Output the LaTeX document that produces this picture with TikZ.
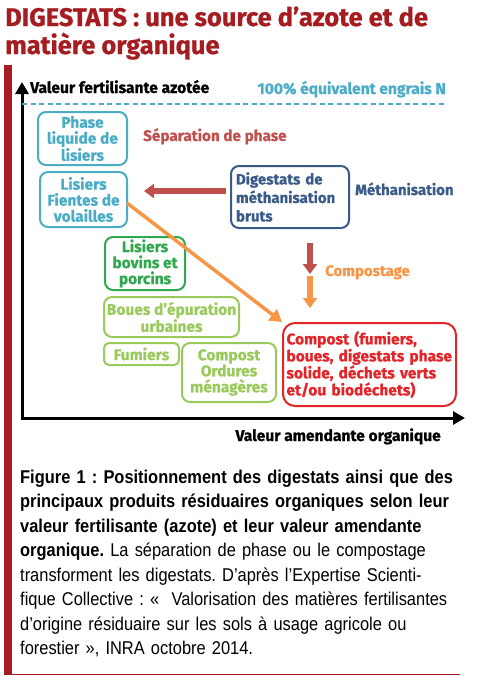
\documentclass[tikz,border=0pt]{standalone}
\usepackage{fontspec}
\setmainfont{Liberation Sans}
\newfontfamily\din[BoldFeatures={FakeBold=0.8}]{Fira Sans}
\newfontfamily\capfont[FakeStretch=0.888]{Liberation Sans}
\usetikzlibrary{arrows.meta}
\definecolor{darkred}{HTML}{A51C21}
\definecolor{lblue}{HTML}{4BACC6}
\definecolor{dblue}{HTML}{3A5B88}
\definecolor{brred}{HTML}{C0504D}
\definecolor{orng}{HTML}{F79646}
\definecolor{dgreen}{HTML}{2FA84F}
\definecolor{lgreen}{HTML}{9ACA5C}
\definecolor{cred}{HTML}{E42428}
\tikzset{
  box/.style={draw, line width=2pt, rounded corners=8pt, inner sep=2pt,
    font=\din\bfseries\fontsize{15.5}{16}\selectfont, align=center},
  lbl/.style={font=\din\bfseries\fontsize{15.3}{16}\selectfont, inner sep=0pt, anchor=base west},
  axlbl/.style={font=\din\bfseries\fontsize{15.6}{16}\selectfont, inner sep=0pt},
  axisarrow/.style={line width=3pt, -{Triangle[length=12pt,width=13pt]}},
  fatarrow/.style={line width=6pt, -{Triangle[length=10pt,width=14pt]}},
}
\begin{document}
\frenchspacing
\begin{tikzpicture}[x=1pt,y=-1pt]
\useasboundingbox (0,0) rectangle (477,680);
% title
\node[anchor=base west, inner sep=0pt, text=darkred, font=\din\bfseries\fontsize{25.5}{27}\selectfont] (title1) at (5,26)
  {DIGESTATS : une source d’azote et de};
\node[anchor=base west, inner sep=0pt, text=darkred, font=\din\bfseries\fontsize{25.5}{27}\selectfont] (title2) at (5,54)
  {matière organique};
% frame
\fill[darkred] (4,65) rectangle (12,675);
\draw[darkred, line width=1pt] (12,674) -- (460,674);
% axes
\coordinate (origin) at (22,418);
\coordinate (ytop) at (22,82);
\coordinate (xend) at (465,418);
\draw[axisarrow] (22,419.5) -- (ytop);
\draw[axisarrow] (20.5,418) -- (xend);
\node[axlbl, anchor=base west] (ylab) at (30,93) {Valeur fertilisante azotée};
\node[axlbl, anchor=base east] (xlab) at (441,441) {Valeur amendante organique};
\node[axlbl, text=lblue, anchor=base east] (ref) at (446,94) {100\% équivalent engrais N};
\coordinate (dl) at (22,104);
\coordinate (dr) at (446,104);
\draw[lblue, line width=2.5pt, dash pattern=on 5pt off 3.5pt] (dl) -- (dr);
% boxes
\node[box, lblue, text=lblue, minimum width=89pt, minimum height=53pt] (b1) at (82.5,138.5) {Phase\\liquide de\\lisiers};
\node[box, lblue, text=lblue, minimum width=87pt, minimum height=55pt] (b2) at (83.5,199.5) {Lisiers\\Fientes de\\volailles};
\node[box, dblue, text=dblue, minimum width=118pt, minimum height=62pt, align=left, text width=108pt, font=\din\bfseries\fontsize{15}{18.5}\selectfont] (b3) at (290,197) {Digestats de\\méthanisation\\bruts};
\node[box, dgreen, text=dgreen, minimum width=80pt, minimum height=53pt] (b4) at (145,263.5) {Lisiers\\bovins et\\porcins};
\node[box, lgreen, text=lgreen, minimum width=135pt, minimum height=40pt] (b5) at (171.5,317) {Boues d’épuration\\urbaines};
\node[box, lgreen, text=lgreen, minimum width=75pt, minimum height=22pt, rounded corners=5pt] (b6) at (141.5,354) {Fumiers};
\node[box, lgreen, text=lgreen, minimum width=94pt, minimum height=59pt] (b7) at (229,372.5) {Compost\\Ordures\\ménagères};
\node[box, cred, text=cred, minimum width=173pt, minimum height=83pt, align=left, text width=166pt, font=\din\bfseries\fontsize{15.5}{17}\selectfont, rounded corners=12pt] (b8) at (369.5,364.5) {Compost (fumiers,\\boues, digestats phase\\solide, déchets verts\\et/ou biodéchets)};
% process labels
\node[lbl, text=brred] (sep) at (143,141) {Séparation de phase};
\node[lbl, text=dblue, font=\din\bfseries\fontsize{15}{16}\selectfont] (meth) at (355,195) {Méthanisation};
\node[lbl, text=orng, font=\din\bfseries\fontsize{15}{16}\selectfont] (comp) at (325,276) {Compostage};
% arrows
\coordinate (hl) at (144,191);
\draw[fatarrow, brred] (b3.west |- hl) ++(-4,0) -- (hl);
\coordinate (v1) at (310,243);
\coordinate (v2) at (310,274);
\coordinate (v3) at (310,276);
\coordinate (v4) at (310,308);
\draw[fatarrow, brred] (v1) -- (v2);
\draw[fatarrow, orng] (v3) -- (v4);
\coordinate (dstart) at (127,203);
\draw[orng, line width=3.5pt, -{Triangle[length=12pt,width=14pt]}] (dstart) -- (b8.north west);
% caption
\node[anchor=base west, inner sep=0pt, text width=445pt, align=left, font=\capfont\fontsize{18.5}{24.5}\selectfont] (cap) at (20,483)
  {\textbf{Figure 1 : Positionnement des digestats ainsi que des\\principaux produits résiduaires organiques selon leur\\valeur fertilisante (azote) et leur valeur amendante\\organique.} La séparation de phase ou le compostage\\transforment les digestats. D’après l’Expertise Scienti-\\fique Collective : «~ Valorisation des matières fertilisantes\\d’origine résiduaire sur les sols à usage agricole ou\\forestier », INRA octobre 2014.};
\end{tikzpicture}
\end{document}
